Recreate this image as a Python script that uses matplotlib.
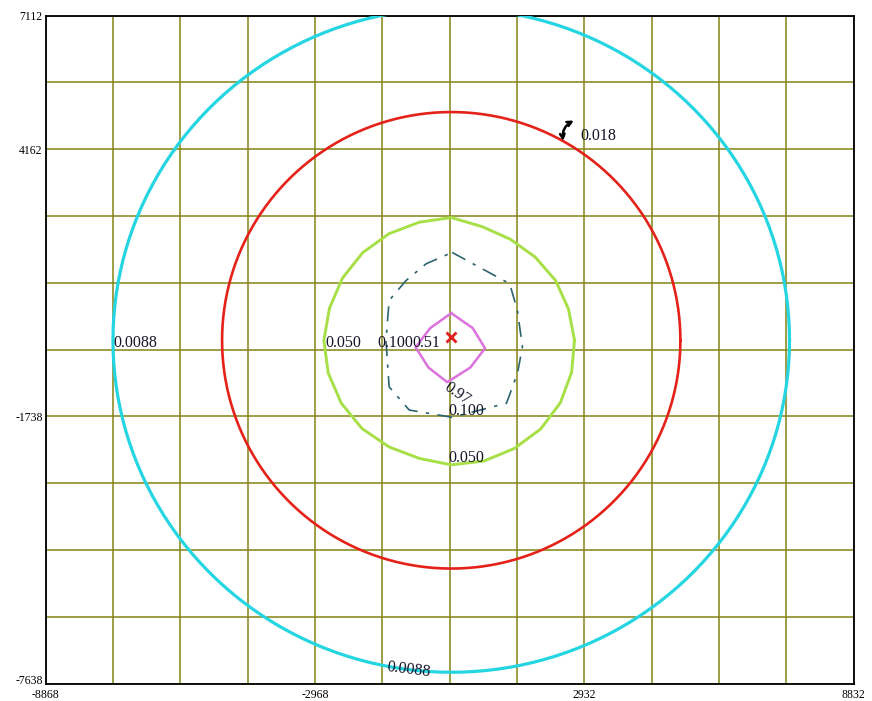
import numpy as np
import matplotlib
matplotlib.use("Agg")
import matplotlib.pyplot as plt

# axis extents and grid step
x_min, x_max = -8868, 8832
y_min, y_max = -7638, 7112
step = 1475
x_labelled = [-8868, -2968, 2932, 8832]
y_labelled = [7112, 4162, -1738, -7638]

# centre of the contour family and the source marker
centre = (20, -60)
source = (20, 13)

# near circular contours: x radius, y radius, colour, width
ring_rx = [7410, 5020]
ring_ry = [7330, 5040]
ring_colors = ["#25d5e2", "#e52219"]
ring_widths = [2.3, 1.9]

# 0.050 contour: radius read every 15 degrees, starting at east
green_r = [2700, 2660, 2640, 2600, 2580, 2600, 2710, 2700, 2720, 2740, 2750, 2760,
           2790, 2790, 2780, 2760, 2720, 2700, 2750, 2760, 2760, 2770, 2760, 2730]

# 0.100 contour (dashed), vertex offsets from the centre
dash_x = [20, 1280, 1450, 1560, 1450, 1210, 20, -920, -1360, -1430, -1360, -990, -550]
dash_y = [1940, 1250, 660, -150, -730, -1390, -1700, -1540, -1030, 0, 880, 1320, 1690]

# 0.51 contour, vertex offsets from the centre
pink_x = [0, 470, 740, 420, -88, -500, -780, -460]
pink_y = [600, 270, -176, -600, -924, -600, -154, 270]

# contour labels: text, x, y, rotation
lab_text = ["0.0088", "0.0088", "0.018", "0.050", "0.050", "0.100", "0.51", "0.97", "0.100"]
lab_x = [-7390, -1390, 2838, -2747, -53, -1608, -842, -110, -53]
lab_y = [-130, -7284, 4462, -130, -2669, -130, -130, -1058, -1610]
lab_rot = [0, -7, 0, 0, 0, 0, 0, -35, 0]

fig = plt.figure(figsize=(8.72, 7.01), dpi=100)
ax = fig.add_axes([45.5 / 872, 17.5 / 701, 808 / 872, 668 / 701])

serif = ["Liberation Serif", "DejaVu Serif"]
grid_col = "#858413"

xs = np.arange(x_min, x_max + 1, step)
ys = np.arange(y_min, y_max + 1, step)
for gx in xs:
    ax.axvline(gx, color=grid_col, lw=1.1, zorder=1)
for gy in ys:
    ax.axhline(gy, color=grid_col, lw=1.1, zorder=1)

t = np.linspace(0, 2 * np.pi, 361)
for rx, ry, c, w in zip(ring_rx, ring_ry, ring_colors, ring_widths):
    ax.plot(centre[0] + rx * np.cos(t), centre[1] + ry * np.sin(t), color=c, lw=w, zorder=3)

def closed(px, py):
    px = np.array(list(px) + list(px[:1])) + centre[0]
    py = np.array(list(py) + list(py[:1])) + centre[1]
    return px, py

ang = np.deg2rad(np.arange(0, 360, 15))
gr = np.array(green_r)
gx_, gy_ = closed(gr * np.cos(ang), gr * np.sin(ang))
ax.plot(gx_, gy_, color="#a6e046", lw=2.1, zorder=3)
dx_, dy_ = closed(dash_x, dash_y)
ax.plot(dx_, dy_, color="#2d6470", lw=1.2, ls=(0, (9, 5, 2, 5)), zorder=3)
px_, py_ = closed(pink_x, pink_y)
ax.plot(px_, py_, color="#dc72dc", lw=1.8, zorder=3)

ax.plot(*source, marker="x", color="#e0201c", ms=7, mew=2, zorder=5)

for s, x, y, r in zip(lab_text, lab_x, lab_y, lab_rot):
    ax.text(x, y, s, fontsize=11.5, family=serif, color="#15152a",
            ha="left", va="center", rotation=r, rotation_mode="anchor", zorder=6)

# small double arrow on the 0.018 ring
ax.annotate("", xy=(2760, 4820), xytext=(2480, 4280),
            arrowprops=dict(arrowstyle="<->", color="black", lw=1.8,
                            mutation_scale=8, connectionstyle="arc3,rad=-0.4"),
            zorder=6)

ax.set_xlim(x_min, x_max)
ax.set_ylim(y_min, y_max)
ax.set_xticks(x_labelled)
ax.set_yticks(y_labelled)
ax.set_xticklabels([str(v) for v in x_labelled], fontsize=8.5, family=serif)
ax.set_yticklabels([str(v) for v in y_labelled], fontsize=8.5, family=serif)
for lab in ax.get_yticklabels():
    lab.set_verticalalignment("center_baseline")
ax.get_yticklabels()[-1].set_verticalalignment("baseline")
ax.tick_params(axis="y", length=0, pad=2)
ax.tick_params(axis="x", length=0, pad=4)
for sp in ax.spines.values():
    sp.set_linewidth(1.3)
    sp.set_color("black")

fig.savefig("out.png", dpi=100)
